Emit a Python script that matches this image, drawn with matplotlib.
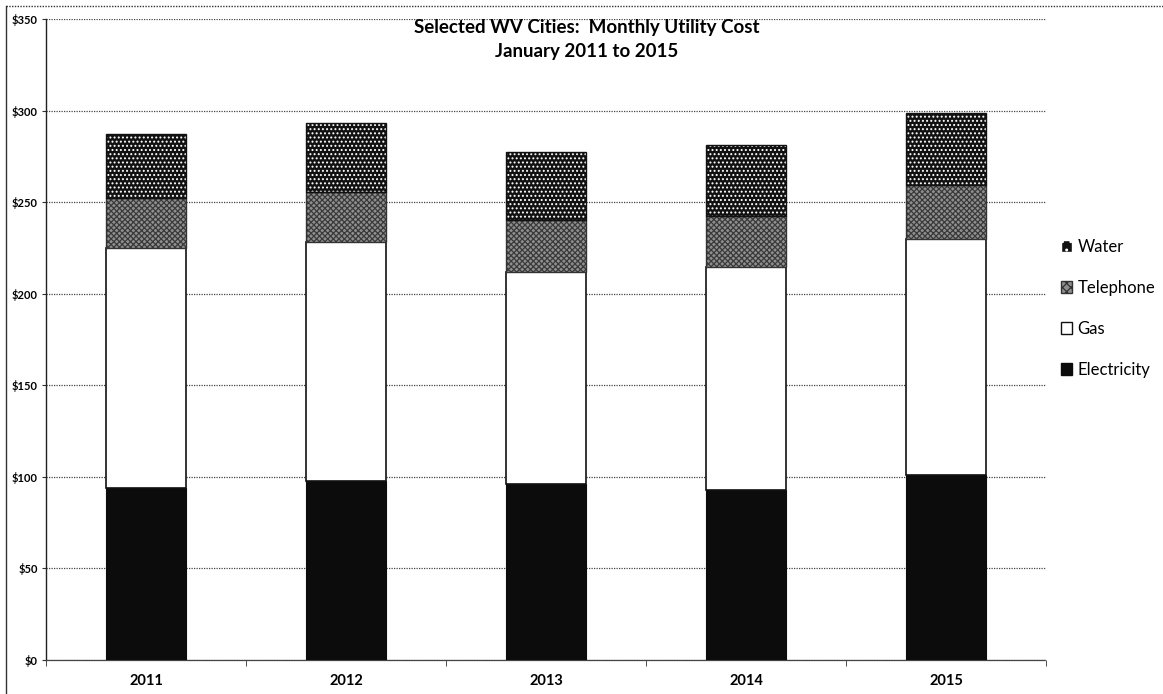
import matplotlib
matplotlib.use("Agg")
import matplotlib.pyplot as plt
from matplotlib.patches import Patch
from matplotlib.lines import Line2D
import numpy as np

years = ["2011", "2012", "2013", "2014", "2015"]
electricity = [94, 98, 96, 93, 101]
gas = [131, 130.5, 116, 121.5, 129]
telephone = [27.5, 27, 28, 28, 29.5]
water = [34.5, 37.5, 37.5, 38.5, 39]
yticks = [0, 50, 100, 150, 200, 250, 300, 350]
title_lines = ["Selected WV Cities:  Monthly Utility Cost", "January 2011 to 2015"]

plt.rcParams['font.family'] = ['Lato', 'DejaVu Sans']
plt.rcParams['hatch.linewidth'] = 0.9

fig = plt.figure(figsize=(11.63, 6.94), dpi=100)
ax = fig.add_axes([46/1163, 34/694, 1000/1163, 641/694])

x = np.arange(len(years))
w = 0.4
ax.set_xlim(-0.5, len(years) - 0.5)
ax.set_ylim(0, 350)

bottom = np.zeros(len(years))
# Electricity
ax.bar(x, electricity, w, bottom=bottom, color='#0c0c0c', edgecolor='#0c0c0c', linewidth=0.8, zorder=3)
bottom += np.array(electricity)
# Gas
ax.bar(x, gas, w, bottom=bottom, color='white', edgecolor='#111', linewidth=1.2, zorder=3)
bottom += np.array(gas)
# Telephone
ax.bar(x, telephone, w, bottom=bottom, color='#8f8f8f', edgecolor='none', linewidth=0, zorder=3)
ax.bar(x, telephone, w, bottom=bottom, color='none', edgecolor='#3a3a3a', hatch='xxxxxx', linewidth=0, zorder=4)
ax.bar(x, telephone, w, bottom=bottom, color='none', edgecolor='#333', linewidth=1.0, zorder=5)
bottom += np.array(telephone)
# Water
ax.bar(x, water, w, bottom=bottom, color='#111', edgecolor='none', linewidth=0, zorder=3)
ax.bar(x, water, w, bottom=bottom, color='none', edgecolor='white', hatch='....', linewidth=0, zorder=4)
ax.bar(x, water, w, bottom=bottom, color='none', edgecolor='#111', linewidth=1.0, zorder=5)

ax.set_yticks(yticks)
ax.set_yticklabels([f"${v}" for v in yticks], fontsize=8, fontweight='bold')
ax.set_xticks(x)
ax.set_xticklabels(years, fontsize=10.5, fontweight='bold')
ax.tick_params(axis='x', which='major', length=0, pad=10)
ax.set_xticks(np.arange(-0.5, len(years) + 0.5, 1), minor=True)
ax.tick_params(axis='x', which='minor', length=4, direction='out', color='#333')
ax.tick_params(axis='y', length=3, color='#333', pad=3)

ax.yaxis.grid(True, linestyle=(0, (1, 1)), color='#444', linewidth=0.9, zorder=0)
ax.set_axisbelow(True)
for s in ['top', 'right']:
    ax.spines[s].set_visible(False)
ax.spines['left'].set_color('#222')
ax.spines['left'].set_linewidth(1.0)
ax.spines['bottom'].set_color('#444')
ax.spines['bottom'].set_linestyle((0, (1, 1)))
ax.spines['bottom'].set_linewidth(0.9)

fig.text(587/1163, 1 - 28/694, title_lines[0], ha='center', va='center', fontsize=13.5, fontweight='bold')
fig.text(587/1163, 1 - 51/694, title_lines[1], ha='center', va='center', fontsize=13.5, fontweight='bold')

handles = [
    Patch(facecolor='#111', edgecolor='white', hatch='..', label='Water'),
    Patch(facecolor='#8f8f8f', edgecolor='#333', hatch='xxxx', label='Telephone'),
    Patch(facecolor='white', edgecolor='#111', label='Gas'),
    Patch(facecolor='#0c0c0c', edgecolor='#0c0c0c', label='Electricity'),
]
leg = fig.legend(handles=handles, loc='upper left', bbox_to_anchor=(1054/1163, 1 - 232/694),
                 frameon=False, fontsize=12, handlelength=0.7, handleheight=0.7,
                 handletextpad=0.3, labelspacing=1.5, borderaxespad=0)

# outer chart frame
fig.add_artist(Line2D([6/1163, 6/1163], [0, 1 - 6/694], color='#333', linewidth=1.0))
fig.add_artist(Line2D([6/1163, 1], [1 - 6/694, 1 - 6/694], color='#333', linewidth=1.0, linestyle=(0, (1, 1))))

fig.savefig("out.png", dpi=100)
